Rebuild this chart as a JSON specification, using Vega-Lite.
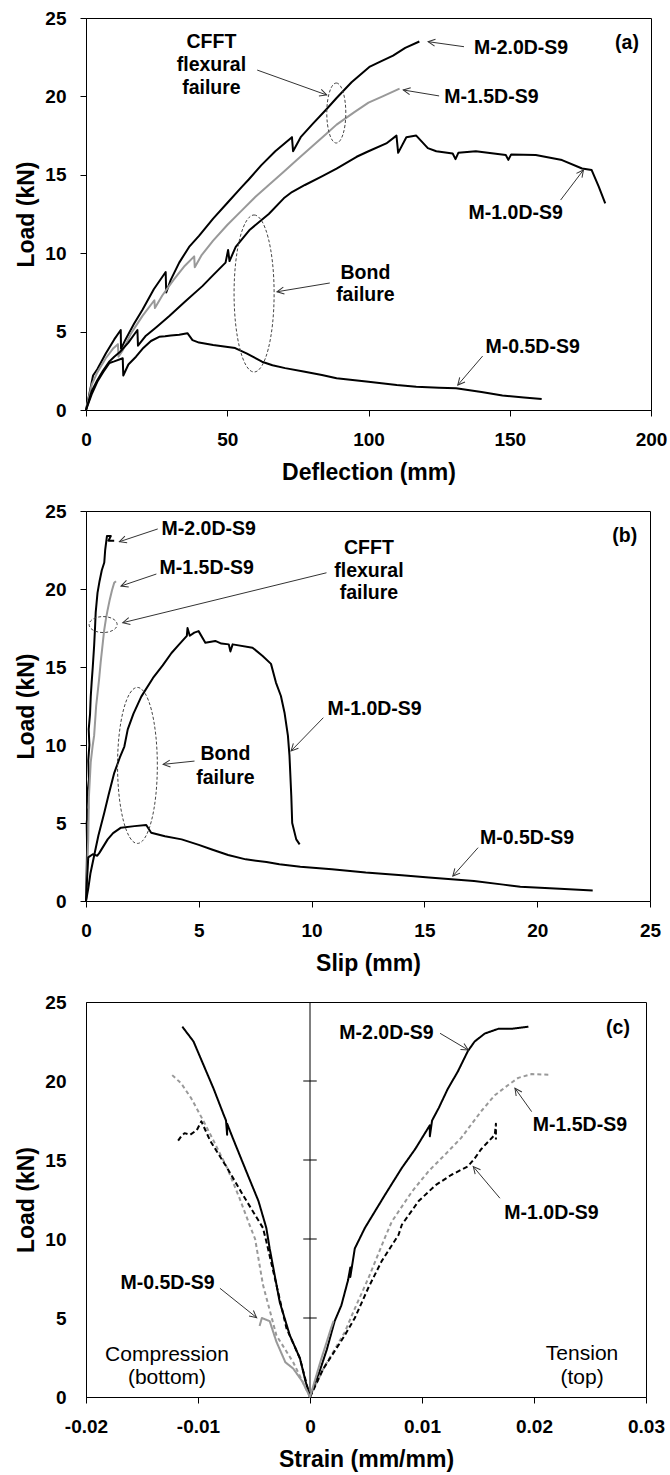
{
  "$schema": "https://vega.github.io/schema/vega-lite/v6.json",
  "background": "white",
  "padding": {"left": 15, "top": 8, "right": 5, "bottom": 0},
  "columns": 1,
  "align": "none",
  "spacing": 16,
  "resolve": {"scale": {"x": "independent", "y": "independent", "color": "independent", "strokeDash": "independent"}},
  "config": {
    "font": "Liberation Sans",
    "view": {"stroke": "#000", "strokeWidth": 1},
    "axis": {"grid": false, "domainColor": "#000", "domainWidth": 1, "tickColor": "#000", "tickSize": 6, "labelColor": "#000", "titleColor": "#000", "labelFont": "Liberation Sans", "titleFont": "Liberation Sans", "labelFontSize": 19, "labelFontWeight": "bold", "titleFontSize": 23, "titleFontWeight": "bold", "labelPadding": 14, "labelFlush": false, "labelOverlap": false, "labelBound": false},
    "axisX": {"titlePadding": 12},
    "axisY": {"titlePadding": 6}
  },
  "datasets": {
    "a": [
      {"s":"2.0","x":0,"y":0},{"s":"2.0","x":1.5,"y":1.3},{"s":"2.0","x":2.5,"y":2.2},{"s":"2.0","x":4,"y":2.6},{"s":"2.0","x":7,"y":3.6},{"s":"2.0","x":10,"y":4.5},{"s":"2.0","x":12.3,"y":5.1},{"s":"2.0","x":12.4,"y":3.9},{"s":"2.0","x":14,"y":4.5},{"s":"2.0","x":17,"y":5.5},{"s":"2.0","x":20,"y":6.4},{"s":"2.0","x":24,"y":7.7},{"s":"2.0","x":28.2,"y":8.8},{"s":"2.0","x":28.4,"y":7.5},{"s":"2.0","x":30,"y":8.3},{"s":"2.0","x":33,"y":9.4},{"s":"2.0","x":36.5,"y":10.4},{"s":"2.0","x":40,"y":11.1},{"s":"2.0","x":45,"y":12.2},{"s":"2.0","x":50,"y":13.2},{"s":"2.0","x":55,"y":14.2},{"s":"2.0","x":57.6,"y":14.7},{"s":"2.0","x":62,"y":15.6},{"s":"2.0","x":67,"y":16.5},{"s":"2.0","x":72.9,"y":17.4},{"s":"2.0","x":73.3,"y":16.5},{"s":"2.0","x":76,"y":17.4},{"s":"2.0","x":80,"y":18.2},{"s":"2.0","x":85.2,"y":19.2},{"s":"2.0","x":88.7,"y":19.9},{"s":"2.0","x":94,"y":20.9},{"s":"2.0","x":100.5,"y":21.9},{"s":"2.0","x":104,"y":22.2},{"s":"2.0","x":108.7,"y":22.6},{"s":"2.0","x":113,"y":23.1},{"s":"2.0","x":118,"y":23.5},
      {"s":"1.5","x":0,"y":0},{"s":"1.5","x":2,"y":1.6},{"s":"1.5","x":4,"y":2.4},{"s":"1.5","x":7,"y":3.3},{"s":"1.5","x":9.5,"y":3.9},{"s":"1.5","x":11.3,"y":4.2},{"s":"1.5","x":11.5,"y":3.4},{"s":"1.5","x":13,"y":3.8},{"s":"1.5","x":16,"y":4.9},{"s":"1.5","x":20,"y":6.0},{"s":"1.5","x":24.2,"y":7.0},{"s":"1.5","x":24.4,"y":6.5},{"s":"1.5","x":27,"y":7.3},{"s":"1.5","x":31,"y":8.3},{"s":"1.5","x":35,"y":9.2},{"s":"1.5","x":38.3,"y":9.8},{"s":"1.5","x":38.5,"y":9.1},{"s":"1.5","x":41,"y":9.9},{"s":"1.5","x":45,"y":10.8},{"s":"1.5","x":50,"y":11.8},{"s":"1.5","x":55,"y":12.7},{"s":"1.5","x":60,"y":13.6},{"s":"1.5","x":64.7,"y":14.35},{"s":"1.5","x":70,"y":15.2},{"s":"1.5","x":75,"y":16.0},{"s":"1.5","x":80,"y":16.8},{"s":"1.5","x":85,"y":17.6},{"s":"1.5","x":88.7,"y":18.2},{"s":"1.5","x":95,"y":19.0},{"s":"1.5","x":100,"y":19.6},{"s":"1.5","x":105,"y":20.0},{"s":"1.5","x":111,"y":20.5},
      {"s":"1.0","x":0,"y":0},{"s":"1.0","x":2,"y":1.2},{"s":"1.0","x":4,"y":1.9},{"s":"1.0","x":6,"y":2.5},{"s":"1.0","x":8.3,"y":3.1},{"s":"1.0","x":10,"y":3.4},{"s":"1.0","x":12,"y":3.7},{"s":"1.0","x":15,"y":4.3},{"s":"1.0","x":18.2,"y":5.1},{"s":"1.0","x":18.4,"y":4.1},{"s":"1.0","x":21,"y":4.7},{"s":"1.0","x":25,"y":5.3},{"s":"1.0","x":29.5,"y":6.0},{"s":"1.0","x":35,"y":6.9},{"s":"1.0","x":41.2,"y":7.9},{"s":"1.0","x":45,"y":8.6},{"s":"1.0","x":49.4,"y":9.4},{"s":"1.0","x":50.3,"y":10.2},{"s":"1.0","x":50.8,"y":9.5},{"s":"1.0","x":53,"y":10.4},{"s":"1.0","x":58,"y":11.5},{"s":"1.0","x":64.7,"y":12.5},{"s":"1.0","x":70,"y":13.5},{"s":"1.0","x":72.9,"y":13.9},{"s":"1.0","x":77.5,"y":14.35},{"s":"1.0","x":83.5,"y":14.9},{"s":"1.0","x":88.7,"y":15.4},{"s":"1.0","x":95.8,"y":16.15},{"s":"1.0","x":100,"y":16.5},{"s":"1.0","x":106.3,"y":17.0},{"s":"1.0","x":109.9,"y":17.5},{"s":"1.0","x":110.5,"y":16.4},{"s":"1.0","x":113.4,"y":17.4},{"s":"1.0","x":116.9,"y":17.5},{"s":"1.0","x":121,"y":16.7},{"s":"1.0","x":124,"y":16.5},{"s":"1.0","x":129.8,"y":16.36},{"s":"1.0","x":130.8,"y":16.0},{"s":"1.0","x":131.8,"y":16.4},{"s":"1.0","x":138,"y":16.5},{"s":"1.0","x":148.6,"y":16.26},{"s":"1.0","x":149.5,"y":15.95},{"s":"1.0","x":150.5,"y":16.3},{"s":"1.0","x":159.2,"y":16.26},{"s":"1.0","x":168.5,"y":15.94},{"s":"1.0","x":175.6,"y":15.4},{"s":"1.0","x":179,"y":15.3},{"s":"1.0","x":181.5,"y":14.24},{"s":"1.0","x":183.8,"y":13.18},
      {"s":"0.5","x":0,"y":0},{"s":"0.5","x":2,"y":1.0},{"s":"0.5","x":4,"y":1.8},{"s":"0.5","x":6,"y":2.4},{"s":"0.5","x":8.3,"y":3.0},{"s":"0.5","x":10,"y":3.1},{"s":"0.5","x":13,"y":3.3},{"s":"0.5","x":13.2,"y":2.2},{"s":"0.5","x":15,"y":2.9},{"s":"0.5","x":17.7,"y":3.4},{"s":"0.5","x":20,"y":3.9},{"s":"0.5","x":23,"y":4.4},{"s":"0.5","x":25.9,"y":4.67},{"s":"0.5","x":28,"y":4.7},{"s":"0.5","x":30,"y":4.75},{"s":"0.5","x":33,"y":4.8},{"s":"0.5","x":35.9,"y":4.9},{"s":"0.5","x":37.7,"y":4.46},{"s":"0.5","x":40,"y":4.3},{"s":"0.5","x":45,"y":4.15},{"s":"0.5","x":52.8,"y":3.95},{"s":"0.5","x":57,"y":3.6},{"s":"0.5","x":62.3,"y":3.08},{"s":"0.5","x":66,"y":2.85},{"s":"0.5","x":70.5,"y":2.67},{"s":"0.5","x":77,"y":2.45},{"s":"0.5","x":83.5,"y":2.23},{"s":"0.5","x":88.7,"y":2.02},{"s":"0.5","x":100,"y":1.8},{"s":"0.5","x":110,"y":1.6},{"s":"0.5","x":116.9,"y":1.49},{"s":"0.5","x":125,"y":1.42},{"s":"0.5","x":131,"y":1.38},{"s":"0.5","x":140,"y":1.15},{"s":"0.5","x":147.4,"y":0.92},{"s":"0.5","x":155,"y":0.8},{"s":"0.5","x":161.3,"y":0.7}
    ],
    "b": [
      {"s":"2.0","i":0,"x":0,"y":0},{"s":"2.0","i":1,"x":0.03,"y":2.0},{"s":"2.0","i":2,"x":0.05,"y":3.5},{"s":"2.0","i":3,"x":0.03,"y":5.0},{"s":"2.0","i":4,"x":0.1,"y":6.0},{"s":"2.0","i":5,"x":0.07,"y":7.0},{"s":"2.0","i":6,"x":0.13,"y":7.8},{"s":"2.0","i":7,"x":0.1,"y":9.0},{"s":"2.0","i":8,"x":0.15,"y":10.0},{"s":"2.0","i":9,"x":0.12,"y":11.0},{"s":"2.0","i":10,"x":0.18,"y":12.0},{"s":"2.0","i":11,"x":0.21,"y":13.1},{"s":"2.0","i":12,"x":0.25,"y":14.0},{"s":"2.0","i":13,"x":0.3,"y":15.0},{"s":"2.0","i":14,"x":0.36,"y":16.35},{"s":"2.0","i":15,"x":0.4,"y":17.5},{"s":"2.0","i":16,"x":0.43,"y":18.5},{"s":"2.0","i":17,"x":0.51,"y":19.75},{"s":"2.0","i":18,"x":0.6,"y":20.5},{"s":"2.0","i":19,"x":0.7,"y":21.2},{"s":"2.0","i":20,"x":0.81,"y":21.7},{"s":"2.0","i":21,"x":0.85,"y":22.5},{"s":"2.0","i":22,"x":0.93,"y":23.4},{"s":"2.0","i":23,"x":1.1,"y":23.4},{"s":"2.0","i":24,"x":1.0,"y":23.1},{"s":"2.0","i":25,"x":1.25,"y":23.1},
      {"s":"1.5","i":0,"x":0,"y":0},{"s":"1.5","i":1,"x":0.05,"y":2.0},{"s":"1.5","i":2,"x":0.1,"y":4.0},{"s":"1.5","i":3,"x":0.13,"y":6.7},{"s":"1.5","i":4,"x":0.21,"y":8.9},{"s":"1.5","i":5,"x":0.3,"y":10.0},{"s":"1.5","i":6,"x":0.36,"y":10.6},{"s":"1.5","i":7,"x":0.45,"y":12.5},{"s":"1.5","i":8,"x":0.58,"y":14.2},{"s":"1.5","i":9,"x":0.65,"y":15.3},{"s":"1.5","i":10,"x":0.73,"y":16.35},{"s":"1.5","i":11,"x":0.8,"y":17.3},{"s":"1.5","i":12,"x":0.88,"y":18.05},{"s":"1.5","i":13,"x":0.95,"y":18.6},{"s":"1.5","i":14,"x":1.05,"y":19.3},{"s":"1.5","i":15,"x":1.15,"y":19.9},{"s":"1.5","i":16,"x":1.25,"y":20.4},{"s":"1.5","i":17,"x":1.33,"y":20.5},
      {"s":"1.0","i":0,"x":0,"y":0},{"s":"1.0","i":1,"x":0.1,"y":0.8},{"s":"1.0","i":2,"x":0.2,"y":1.8},{"s":"1.0","i":3,"x":0.36,"y":2.9},{"s":"1.0","i":4,"x":0.55,"y":4.2},{"s":"1.0","i":5,"x":0.81,"y":5.66},{"s":"1.0","i":6,"x":1.0,"y":6.8},{"s":"1.0","i":7,"x":1.25,"y":8.2},{"s":"1.0","i":8,"x":1.5,"y":9.2},{"s":"1.0","i":9,"x":1.7,"y":9.9},{"s":"1.0","i":10,"x":1.85,"y":11.0},{"s":"1.0","i":11,"x":2.1,"y":12.0},{"s":"1.0","i":12,"x":2.45,"y":13.1},{"s":"1.0","i":13,"x":2.97,"y":14.3},{"s":"1.0","i":14,"x":3.4,"y":15.1},{"s":"1.0","i":15,"x":3.79,"y":15.9},{"s":"1.0","i":16,"x":4.1,"y":16.4},{"s":"1.0","i":17,"x":4.47,"y":17.0},{"s":"1.0","i":18,"x":4.5,"y":17.5},{"s":"1.0","i":19,"x":4.6,"y":17.0},{"s":"1.0","i":20,"x":4.8,"y":17.2},{"s":"1.0","i":21,"x":4.99,"y":17.3},{"s":"1.0","i":22,"x":5.29,"y":16.56},{"s":"1.0","i":23,"x":5.73,"y":16.67},{"s":"1.0","i":24,"x":6.0,"y":16.5},{"s":"1.0","i":25,"x":6.33,"y":16.45},{"s":"1.0","i":26,"x":6.4,"y":16.0},{"s":"1.0","i":27,"x":6.5,"y":16.45},{"s":"1.0","i":28,"x":7.38,"y":16.24},{"s":"1.0","i":29,"x":7.83,"y":15.7},{"s":"1.0","i":30,"x":8.2,"y":15.2},{"s":"1.0","i":31,"x":8.42,"y":14.0},{"s":"1.0","i":32,"x":8.64,"y":13.14},{"s":"1.0","i":33,"x":8.8,"y":12.07},{"s":"1.0","i":34,"x":8.95,"y":10.6},{"s":"1.0","i":35,"x":9.02,"y":9.3},{"s":"1.0","i":36,"x":9.1,"y":6.73},{"s":"1.0","i":37,"x":9.14,"y":5.0},{"s":"1.0","i":38,"x":9.32,"y":3.95},{"s":"1.0","i":39,"x":9.47,"y":3.63},
      {"s":"0.5","i":0,"x":0,"y":0},{"s":"0.5","i":1,"x":0.05,"y":1.5},{"s":"0.5","i":2,"x":0.1,"y":2.8},{"s":"0.5","i":3,"x":0.3,"y":3.0},{"s":"0.5","i":4,"x":0.5,"y":2.9},{"s":"0.5","i":5,"x":0.6,"y":3.1},{"s":"0.5","i":6,"x":0.96,"y":3.95},{"s":"0.5","i":7,"x":1.2,"y":4.35},{"s":"0.5","i":8,"x":1.55,"y":4.7},{"s":"0.5","i":9,"x":2.15,"y":4.8},{"s":"0.5","i":10,"x":2.67,"y":4.87},{"s":"0.5","i":11,"x":2.89,"y":4.38},{"s":"0.5","i":12,"x":3.5,"y":4.15},{"s":"0.5","i":13,"x":4.24,"y":3.95},{"s":"0.5","i":14,"x":5.0,"y":3.6},{"s":"0.5","i":15,"x":5.58,"y":3.3},{"s":"0.5","i":16,"x":6.3,"y":2.95},{"s":"0.5","i":17,"x":7.08,"y":2.67},{"s":"0.5","i":18,"x":8.0,"y":2.5},{"s":"0.5","i":19,"x":8.57,"y":2.35},{"s":"0.5","i":20,"x":9.5,"y":2.2},{"s":"0.5","i":21,"x":10.9,"y":2.03},{"s":"0.5","i":22,"x":12.4,"y":1.82},{"s":"0.5","i":23,"x":14,"y":1.65},{"s":"0.5","i":24,"x":15.2,"y":1.5},{"s":"0.5","i":25,"x":17.2,"y":1.28},{"s":"0.5","i":26,"x":18.5,"y":1.05},{"s":"0.5","i":27,"x":19.25,"y":0.92},{"s":"0.5","i":28,"x":21,"y":0.78},{"s":"0.5","i":29,"x":22.46,"y":0.68}
    ],
    "c": [
      {"s":"2.0","br":"t","i":0,"x":0,"y":0},{"s":"2.0","br":"t","i":1,"x":0.0008,"y":1.5},{"s":"2.0","br":"t","i":2,"x":0.0015,"y":3.0},{"s":"2.0","br":"t","i":3,"x":0.0022,"y":4.8},{"s":"2.0","br":"t","i":4,"x":0.0028,"y":5.8},{"s":"2.0","br":"t","i":5,"x":0.0034,"y":7.4},{"s":"2.0","br":"t","i":6,"x":0.0036,"y":8.2},{"s":"2.0","br":"t","i":7,"x":0.0036,"y":7.6},{"s":"2.0","br":"t","i":8,"x":0.004,"y":9.4},{"s":"2.0","br":"t","i":9,"x":0.0049,"y":10.7},{"s":"2.0","br":"t","i":10,"x":0.0067,"y":12.8},{"s":"2.0","br":"t","i":11,"x":0.0082,"y":14.5},{"s":"2.0","br":"t","i":12,"x":0.0094,"y":15.7},{"s":"2.0","br":"t","i":13,"x":0.0107,"y":17.2},{"s":"2.0","br":"t","i":14,"x":0.0107,"y":16.5},{"s":"2.0","br":"t","i":15,"x":0.0109,"y":17.5},{"s":"2.0","br":"t","i":16,"x":0.0115,"y":18.3},{"s":"2.0","br":"t","i":17,"x":0.0123,"y":19.5},{"s":"2.0","br":"t","i":18,"x":0.0132,"y":20.6},{"s":"2.0","br":"t","i":19,"x":0.0141,"y":21.9},{"s":"2.0","br":"t","i":20,"x":0.0147,"y":22.5},{"s":"2.0","br":"t","i":21,"x":0.0156,"y":23.0},{"s":"2.0","br":"t","i":22,"x":0.0168,"y":23.3},{"s":"2.0","br":"t","i":23,"x":0.018,"y":23.3},{"s":"2.0","br":"t","i":24,"x":0.0195,"y":23.44},
      {"s":"2.0","br":"c","i":0,"x":0,"y":0},{"s":"2.0","br":"c","i":1,"x":-0.0004,"y":1.0},{"s":"2.0","br":"c","i":2,"x":-0.0009,"y":2.45},{"s":"2.0","br":"c","i":3,"x":-0.0018,"y":3.9},{"s":"2.0","br":"c","i":4,"x":-0.0027,"y":6.0},{"s":"2.0","br":"c","i":5,"x":-0.0036,"y":9.4},{"s":"2.0","br":"c","i":6,"x":-0.0039,"y":10.7},{"s":"2.0","br":"c","i":7,"x":-0.0046,"y":12.4},{"s":"2.0","br":"c","i":8,"x":-0.0057,"y":14.3},{"s":"2.0","br":"c","i":9,"x":-0.0069,"y":16.4},{"s":"2.0","br":"c","i":10,"x":-0.0074,"y":17.3},{"s":"2.0","br":"c","i":11,"x":-0.0074,"y":16.6},{"s":"2.0","br":"c","i":12,"x":-0.0075,"y":17.5},{"s":"2.0","br":"c","i":13,"x":-0.0077,"y":17.85},{"s":"2.0","br":"c","i":14,"x":-0.0086,"y":19.5},{"s":"2.0","br":"c","i":15,"x":-0.0095,"y":21.0},{"s":"2.0","br":"c","i":16,"x":-0.0104,"y":22.5},{"s":"2.0","br":"c","i":17,"x":-0.0114,"y":23.44},
      {"s":"1.5","br":"t","i":0,"x":0,"y":0},{"s":"1.5","br":"t","i":1,"x":0.0012,"y":1.8},{"s":"1.5","br":"t","i":2,"x":0.0031,"y":4.1},{"s":"1.5","br":"t","i":3,"x":0.004,"y":5.6},{"s":"1.5","br":"t","i":4,"x":0.0052,"y":7.5},{"s":"1.5","br":"t","i":5,"x":0.0067,"y":10.1},{"s":"1.5","br":"t","i":6,"x":0.0073,"y":11.1},{"s":"1.5","br":"t","i":7,"x":0.0091,"y":13.0},{"s":"1.5","br":"t","i":8,"x":0.0106,"y":14.3},{"s":"1.5","br":"t","i":9,"x":0.012,"y":15.3},{"s":"1.5","br":"t","i":10,"x":0.0135,"y":16.4},{"s":"1.5","br":"t","i":11,"x":0.0153,"y":18.1},{"s":"1.5","br":"t","i":12,"x":0.0165,"y":19.1},{"s":"1.5","br":"t","i":13,"x":0.0177,"y":19.75},{"s":"1.5","br":"t","i":14,"x":0.0186,"y":20.2},{"s":"1.5","br":"t","i":15,"x":0.0198,"y":20.44},{"s":"1.5","br":"t","i":16,"x":0.0213,"y":20.4},
      {"s":"1.5","br":"c","i":0,"x":0,"y":0},{"s":"1.5","br":"c","i":1,"x":-0.0015,"y":2.2},{"s":"1.5","br":"c","i":2,"x":-0.003,"y":3.9},{"s":"1.5","br":"c","i":3,"x":-0.0042,"y":7.1},{"s":"1.5","br":"c","i":4,"x":-0.0049,"y":10.0},{"s":"1.5","br":"c","i":5,"x":-0.0054,"y":10.9},{"s":"1.5","br":"c","i":6,"x":-0.0063,"y":12.6},{"s":"1.5","br":"c","i":7,"x":-0.0074,"y":14.5},{"s":"1.5","br":"c","i":8,"x":-0.0086,"y":16.2},{"s":"1.5","br":"c","i":9,"x":-0.0095,"y":17.45},{"s":"1.5","br":"c","i":10,"x":-0.0106,"y":18.9},{"s":"1.5","br":"c","i":11,"x":-0.0115,"y":19.85},{"s":"1.5","br":"c","i":12,"x":-0.0125,"y":20.5},
      {"s":"1.0","br":"t","i":0,"x":0,"y":0},{"s":"1.0","br":"t","i":1,"x":0.0012,"y":1.8},{"s":"1.0","br":"t","i":2,"x":0.0031,"y":3.9},{"s":"1.0","br":"t","i":3,"x":0.004,"y":5.0},{"s":"1.0","br":"t","i":4,"x":0.0052,"y":6.9},{"s":"1.0","br":"t","i":5,"x":0.0064,"y":8.6},{"s":"1.0","br":"t","i":6,"x":0.0079,"y":10.25},{"s":"1.0","br":"t","i":7,"x":0.0082,"y":10.9},{"s":"1.0","br":"t","i":8,"x":0.0097,"y":12.4},{"s":"1.0","br":"t","i":9,"x":0.0112,"y":13.4},{"s":"1.0","br":"t","i":10,"x":0.0126,"y":14.05},{"s":"1.0","br":"t","i":11,"x":0.0141,"y":14.6},{"s":"1.0","br":"t","i":12,"x":0.0147,"y":15.1},{"s":"1.0","br":"t","i":13,"x":0.0153,"y":15.7},{"s":"1.0","br":"t","i":14,"x":0.0165,"y":16.6},{"s":"1.0","br":"t","i":15,"x":0.0166,"y":17.3},{"s":"1.0","br":"t","i":16,"x":0.0166,"y":16.3},
      {"s":"1.0","br":"c","i":0,"x":0,"y":0},{"s":"1.0","br":"c","i":1,"x":-0.0009,"y":2.45},{"s":"1.0","br":"c","i":2,"x":-0.0021,"y":4.35},{"s":"1.0","br":"c","i":3,"x":-0.003,"y":7.1},{"s":"1.0","br":"c","i":4,"x":-0.0039,"y":9.85},{"s":"1.0","br":"c","i":5,"x":-0.0042,"y":10.7},{"s":"1.0","br":"c","i":6,"x":-0.006,"y":12.8},{"s":"1.0","br":"c","i":7,"x":-0.0074,"y":14.5},{"s":"1.0","br":"c","i":8,"x":-0.0089,"y":16.2},{"s":"1.0","br":"c","i":9,"x":-0.0097,"y":17.45},{"s":"1.0","br":"c","i":10,"x":-0.0101,"y":16.9},{"s":"1.0","br":"c","i":11,"x":-0.0107,"y":16.6},{"s":"1.0","br":"c","i":12,"x":-0.0112,"y":16.7},{"s":"1.0","br":"c","i":13,"x":-0.0115,"y":16.5},{"s":"1.0","br":"c","i":14,"x":-0.0118,"y":16.2},
      {"s":"0.5","br":"t","i":0,"x":0,"y":0},{"s":"0.5","br":"t","i":1,"x":0.0005,"y":1.2},{"s":"0.5","br":"t","i":2,"x":0.001,"y":2.4},{"s":"0.5","br":"t","i":3,"x":0.0015,"y":3.5},{"s":"0.5","br":"t","i":4,"x":0.0019,"y":4.4},{"s":"0.5","br":"t","i":5,"x":0.0021,"y":4.8},
      {"s":"0.5","br":"c","i":0,"x":0,"y":0},{"s":"0.5","br":"c","i":1,"x":-0.0007,"y":1.0},{"s":"0.5","br":"c","i":2,"x":-0.0015,"y":1.8},{"s":"0.5","br":"c","i":3,"x":-0.0022,"y":2.2},{"s":"0.5","br":"c","i":4,"x":-0.003,"y":3.5},{"s":"0.5","br":"c","i":5,"x":-0.0036,"y":4.8},{"s":"0.5","br":"c","i":6,"x":-0.0043,"y":5.0},{"s":"0.5","br":"c","i":7,"x":-0.0045,"y":4.5}
    ],
    "arrA": [
      {"x":85.2,"y":20.09,"x2":60.6,"y2":21.68,"ang":19.7},
      {"x":121.1,"y":23.49,"x2":133.8,"y2":23.17,"ang":187.9},
      {"x":112.3,"y":20.41,"x2":125.0,"y2":20.03,"ang":189.5},
      {"x":176.1,"y":15.31,"x2":168.0,"y2":13.39,"ang":-52.5},
      {"x":67.6,"y":7.54,"x2":86.3,"y2":8.1,"ang":170.7},
      {"x":131.6,"y":1.59,"x2":140.4,"y2":3.44,"ang":130.8}
    ],
    "arrB": [
      {"x":1.48,"y":23.03,"x2":3.18,"y2":23.85,"ang":161.5},
      {"x":1.55,"y":20.19,"x2":3.12,"y2":20.96,"ang":161.1},
      {"x":1.63,"y":17.84,"x2":10.66,"y2":21.04,"ang":166.1},
      {"x":3.42,"y":8.76,"x2":4.81,"y2":8.97,"ang":173.9},
      {"x":9.09,"y":9.62,"x2":10.52,"y2":11.75,"ang":133.6},
      {"x":16.26,"y":1.6,"x2":17.38,"y2":3.42,"ang":131.5}
    ],
    "arrC": [
      {"x":0.01413,"y":21.96,"x2":0.01161,"y2":23.02,"ang":30.5},
      {"x":0.0183,"y":19.54,"x2":0.01979,"y2":18.06,"ang":-125.5},
      {"x":0.01458,"y":14.58,"x2":0.01696,"y2":12.58,"ang":-130.2},
      {"x":-0.00476,"y":5.02,"x2":-0.00804,"y2":6.88,"ang":38.7}
    ]
  },
  "concat": [
    {
      "width": 565, "height": 392,
      "encoding": {
        "x": {"field": "x", "type": "quantitative", "scale": {"domain": [0, 200], "nice": false, "zero": false}, "axis": {"values": [0, 50, 100, 150, 200], "title": "Deflection (mm)"}},
        "y": {"field": "y", "type": "quantitative", "scale": {"domain": [0, 25], "nice": false}, "axis": {"values": [0, 5, 10, 15, 20, 25], "title": "Load (kN)"}}
      },
      "layer": [
        {"data": {"name": "a"}, "mark": {"type": "line", "strokeWidth": 2, "strokeJoin": "round"},
         "encoding": {"color": {"field": "s", "type": "nominal", "scale": {"domain": ["2.0", "1.5", "1.0", "0.5"], "range": ["#000000", "#999999", "#000000", "#000000"]}, "legend": null}}},
        {"data": {"values": [{"x": 88.6, "y": 18.94}]}, "mark": {"type": "point", "shape": "M0,-1C0.175,-1,0.317,-0.552,0.317,0C0.317,0.552,0.175,1,0,1C-0.175,1,-0.317,0.552,-0.317,0C-0.317,-0.552,-0.175,-1,0,-1Z", "size": 3600, "filled": false, "stroke": "#444444", "strokeWidth": 1, "strokeDash": [3, 2], "opacity": 1}},
        {"data": {"values": [{"x": 59.5, "y": 7.43}]}, "mark": {"type": "point", "shape": "M0,-1C0.141,-1,0.255,-0.552,0.255,0C0.255,0.552,0.141,1,0,1C-0.141,1,-0.255,0.552,-0.255,0C-0.255,-0.552,-0.141,-1,0,-1Z", "size": 24649, "filled": false, "stroke": "#444444", "strokeWidth": 1, "strokeDash": [3, 2], "opacity": 1}},
        {"data": {"name": "arrA"}, "mark": {"type": "rule", "color": "#333333", "strokeWidth": 1}, "encoding": {"x2": {"field": "x2"}, "y2": {"field": "y2"}}},
        {"data": {"name": "arrA"}, "mark": {"type": "point", "shape": "M-1,-0.5L0,0L-1,0.5", "size": 196, "filled": false, "stroke": "#333333", "strokeWidth": 1, "opacity": 1}, "encoding": {"angle": {"field": "ang", "type": "quantitative", "scale": null}}},
        {"data": {"values": [
          {"x": 44.4, "y": 23.47, "t": "CFFT"}, {"x": 44.4, "y": 22.0, "t": "flexural"}, {"x": 44.4, "y": 20.54, "t": "failure"},
          {"x": 154.0, "y": 23.09, "t": "M-2.0D-S9"}, {"x": 143.5, "y": 19.96, "t": "M-1.5D-S9"}, {"x": 152.1, "y": 12.56, "t": "M-1.0D-S9"},
          {"x": 191.5, "y": 23.4, "t": "(a)"}, {"x": 98.9, "y": 8.74, "t": "Bond"}, {"x": 98.9, "y": 7.33, "t": "failure"}, {"x": 158.1, "y": 4.02, "t": "M-0.5D-S9"}]},
         "mark": {"type": "text", "font": "Liberation Sans", "fontWeight": "bold", "fontSize": 19.5, "align": "center", "baseline": "middle", "color": "#000000"},
         "encoding": {"text": {"field": "t"}}}
      ]
    },
    {
      "width": 564, "height": 390,
      "encoding": {
        "x": {"field": "x", "type": "quantitative", "scale": {"domain": [0, 25], "nice": false, "zero": false}, "axis": {"values": [0, 5, 10, 15, 20, 25], "title": "Slip (mm)"}},
        "y": {"field": "y", "type": "quantitative", "scale": {"domain": [0, 25], "nice": false}, "axis": {"values": [0, 5, 10, 15, 20, 25], "title": "Load (kN)"}}
      },
      "layer": [
        {"data": {"name": "b"}, "mark": {"type": "line", "strokeWidth": 2, "strokeJoin": "round"},
         "encoding": {"color": {"field": "s", "type": "nominal", "scale": {"domain": ["2.0", "1.5", "1.0", "0.5"], "range": ["#000000", "#999999", "#000000", "#000000"]}, "legend": null}, "order": {"field": "i", "type": "quantitative"}}},
        {"data": {"values": [{"x": 0.76, "y": 17.72}]}, "mark": {"type": "point", "shape": "M0,-0.571C0.552,-0.571,1,-0.315,1,0C1,0.315,0.552,0.571,0,0.571C-0.552,0.571,-1,0.315,-1,0C-1,-0.315,-0.552,-0.571,0,-0.571Z", "size": 784, "filled": false, "stroke": "#444444", "strokeWidth": 1, "strokeDash": [3, 2], "opacity": 1}},
        {"data": {"values": [{"x": 2.28, "y": 8.69}]}, "mark": {"type": "point", "shape": "M0,-1C0.141,-1,0.255,-0.552,0.255,0C0.255,0.552,0.141,1,0,1C-0.141,1,-0.255,0.552,-0.255,0C-0.255,-0.552,-0.141,-1,0,-1Z", "size": 24336, "filled": false, "stroke": "#444444", "strokeWidth": 1, "strokeDash": [3, 2], "opacity": 1}},
        {"data": {"name": "arrB"}, "mark": {"type": "rule", "color": "#333333", "strokeWidth": 1}, "encoding": {"x2": {"field": "x2"}, "y2": {"field": "y2"}}},
        {"data": {"name": "arrB"}, "mark": {"type": "point", "shape": "M-1,-0.5L0,0L-1,0.5", "size": 196, "filled": false, "stroke": "#333333", "strokeWidth": 1, "opacity": 1}, "encoding": {"angle": {"field": "ang", "type": "quantitative", "scale": null}}},
        {"data": {"values": [
          {"x": 5.44, "y": 23.85, "t": "M-2.0D-S9"}, {"x": 5.35, "y": 21.35, "t": "M-1.5D-S9"},
          {"x": 12.54, "y": 22.63, "t": "CFFT"}, {"x": 12.54, "y": 21.15, "t": "flexural"}, {"x": 12.54, "y": 19.74, "t": "failure"},
          {"x": 6.18, "y": 9.42, "t": "Bond"}, {"x": 6.18, "y": 7.88, "t": "failure"}, {"x": 12.79, "y": 12.31, "t": "M-1.0D-S9"},
          {"x": 23.88, "y": 23.4, "t": "(b)"}, {"x": 19.55, "y": 4.06, "t": "M-0.5D-S9"}]},
         "mark": {"type": "text", "font": "Liberation Sans", "fontWeight": "bold", "fontSize": 19.5, "align": "center", "baseline": "middle", "color": "#000000"},
         "encoding": {"text": {"field": "t"}}}
      ]
    },
    {
      "width": 560, "height": 395,
      "encoding": {
        "x": {"field": "x", "type": "quantitative", "scale": {"domain": [-0.02, 0.03], "nice": false, "zero": false}, "axis": {"values": [-0.02, -0.01, 0, 0.01, 0.02, 0.03], "title": "Strain (mm/mm)", "labelExpr": "datum.value == 0 ? '0' : replace(format(datum.value, '.2f'), '\u2212', '-')"}},
        "y": {"field": "y", "type": "quantitative", "scale": {"domain": [0, 25], "nice": false}, "axis": {"values": [0, 5, 10, 15, 20, 25], "title": "Load (kN)", "ticks": false, "labelPadding": 20}}
      },
      "layer": [
        {"data": {"values": [
          {"x": 0, "y": 0, "x2": 0, "y2": 25},
          {"x": -0.0006, "y": 5, "x2": 0.0006, "y2": 5},
          {"x": -0.0006, "y": 10, "x2": 0.0006, "y2": 10},
          {"x": -0.0006, "y": 15, "x2": 0.0006, "y2": 15},
          {"x": -0.0006, "y": 20, "x2": 0.0006, "y2": 20}]},
         "mark": {"type": "rule", "color": "#000000", "strokeWidth": 1}, "encoding": {"x2": {"field": "x2"}, "y2": {"field": "y2"}}},
        {"data": {"name": "c"}, "mark": {"type": "line", "strokeWidth": 2, "strokeJoin": "round"},
         "encoding": {
           "color": {"field": "s", "type": "nominal", "scale": {"domain": ["2.0", "1.5", "1.0", "0.5"], "range": ["#000000", "#999999", "#000000", "#999999"]}, "legend": null},
           "strokeDash": {"field": "s", "type": "nominal", "scale": {"domain": ["2.0", "1.5", "1.0", "0.5"], "range": [[1, 0], [4, 3], [5, 3], [1, 0]]}, "legend": null},
           "detail": {"field": "br"},
           "order": {"field": "i", "type": "quantitative"}}},
        {"data": {"name": "arrC"}, "mark": {"type": "rule", "color": "#333333", "strokeWidth": 1}, "encoding": {"x2": {"field": "x2"}, "y2": {"field": "y2"}}},
        {"data": {"name": "arrC"}, "mark": {"type": "point", "shape": "M-1,-0.5L0,0L-1,0.5", "size": 196, "filled": false, "stroke": "#333333", "strokeWidth": 1, "opacity": 1}, "encoding": {"angle": {"field": "ang", "type": "quantitative", "scale": null}}},
        {"data": {"values": [
          {"x": 0.00683, "y": 23.04, "t": "M-2.0D-S9"}, {"x": 0.0275, "y": 23.35, "t": "(c)"},
          {"x": 0.0241, "y": 17.22, "t": "M-1.5D-S9"}, {"x": 0.02156, "y": 11.65, "t": "M-1.0D-S9"},
          {"x": -0.01272, "y": 7.22, "t": "M-0.5D-S9"}]},
         "mark": {"type": "text", "font": "Liberation Sans", "fontWeight": "bold", "fontSize": 19.5, "align": "center", "baseline": "middle", "color": "#000000"},
         "encoding": {"text": {"field": "t"}}},
        {"data": {"values": [
          {"x": -0.01277, "y": 2.66, "t": "Compression"}, {"x": -0.01277, "y": 1.2, "t": "(bottom)"},
          {"x": 0.02429, "y": 2.72, "t": "Tension"}, {"x": 0.02429, "y": 1.2, "t": "(top)"}]},
         "mark": {"type": "text", "font": "Liberation Sans", "fontWeight": "normal", "fontSize": 21, "align": "center", "baseline": "middle", "color": "#000000"},
         "encoding": {"text": {"field": "t"}}}
      ]
    }
  ]
}
